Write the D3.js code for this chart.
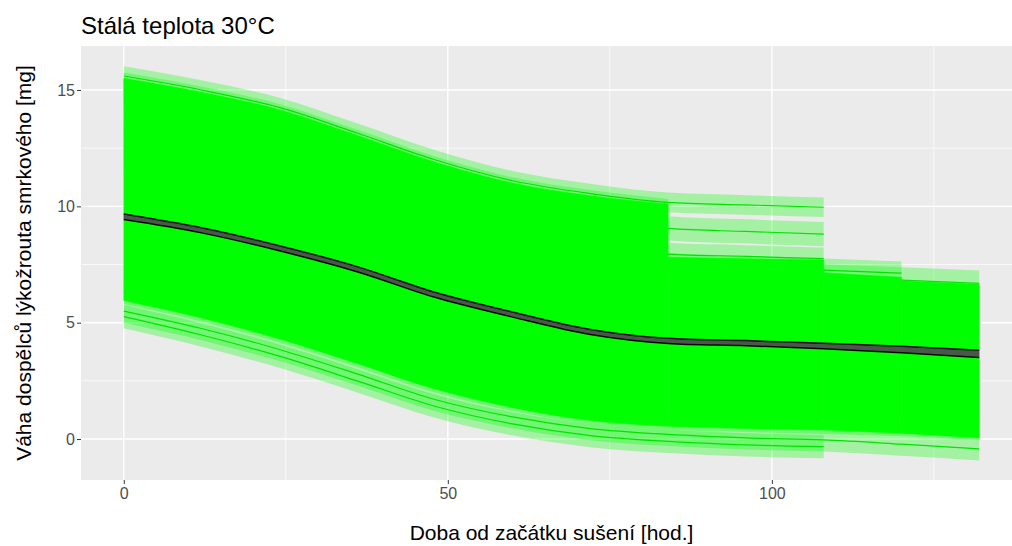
<!DOCTYPE html>
<html>
<head>
<meta charset="utf-8">
<script src="https://cdn.jsdelivr.net/npm/d3@7"></script>
<style>
body { margin: 0; background: #fff; }
text { font-family: 'Liberation Sans', Arial, sans-serif; }
</style>
</head>
<body>
<svg width="1012" height="546"></svg>
<script>
/* global d3 */
// hours since drying started (smoothing knots)
var knots = [0, 12, 24, 36, 48, 60, 72, 84, 96, 108, 120, 132]

// fitted weight curves of single beetles [mg], read at the knots
var curveA = [15.6, 15.0, 14.25, 13.15, 12.0, 11.1, 10.55, 10.17, 10.06, 9.96]
var curveT2 = [15.35, 14.75, 14.0, 12.9, 11.75, 10.85, 10.3, 9.92]
var curveT3 = [15.0, 14.4, 13.65, 12.55, 11.4, 10.5, 9.95, 9.6]
var curveB = [14.5, 13.9, 13.15, 12.05, 10.9, 10.0, 9.45, 9.05, 8.92, 8.81]
var curveD = [13.3, 12.7, 11.95, 10.85, 9.7, 8.8, 8.3, 7.95, 7.85, 7.75]
var curveE = [12.6, 12.0, 11.25, 10.2, 9.1, 8.3, 7.8, 7.5, 7.38, 7.26, 7.13]
var curveF = [11.9, 11.3, 10.6, 9.6, 8.6, 7.85, 7.4, 7.15, 7.05, 6.95, 6.83, 6.69]
var curveG = [6.3, 5.55, 4.65, 3.6, 2.5, 1.7, 1.15, 0.9, 0.8, 0.72, 0.62, 0.45]
var curveL1 = [5.5, 4.75, 3.85, 2.8, 1.7, 0.95, 0.45, 0.2, 0.05, -0.04, -0.22, -0.42]
var curveL2 = [5.26, 4.47, 3.56, 2.5, 1.41, 0.65, 0.15, -0.1, -0.25, -0.33]
// half-width of each curve's confidence band
var curveSe = [0.42, 0.4, 0.4, 0.52, 0.48, 0.5, 0.55, 0.5, 0.5, 0.5]

// the dense overlap of all other beetles (solid green)
var coreTop0 = [15.5, 14.9, 14.15, 13.05, 11.9, 11.0, 10.45, 10.1] // 0-84 h
var coreTop84 = [7.81, 7.75, 7.69] // 84-108 h
var coreTop108 = [7.15, 6.95] // 108-120 h
var coreTop120 = [6.8, 6.65] // 120-132 h
var coreBottom = [5.95, 5.2, 4.3, 3.25, 2.15, 1.35, 0.8, 0.55, 0.45, 0.39, 0.25, 0.05]

// mean curve of all beetles
var meanWeight = [9.55, 8.97, 8.2, 7.3, 6.2, 5.35, 4.6, 4.22, 4.12, 4.0, 3.85, 3.66]
var meanSe = [0.12, 0.11, 0.11, 0.11, 0.11, 0.11, 0.11, 0.11, 0.11, 0.12, 0.14, 0.16]

var xTicks = [0, 50, 100]
var xMinor = [25, 75, 125]
var yTicks = [0, 5, 10, 15]
var yMinor = [2.5, 7.5, 12.5]

var svg = d3.select('svg')
var pLeft = 81
var pTop = 46
var pRight = 1022
var pBottom = 480

var x = d3.scaleLinear().domain([-6.6, 138.6]).range([pLeft, pRight])
var y = d3.scaleLinear().domain([-1.76, 16.89]).range([pBottom, pTop])

svg.append('rect')
    .attr('x', pLeft).attr('y', pTop)
    .attr('width', pRight - pLeft).attr('height', pBottom - pTop)
    .attr('fill', '#ebebeb')

var grid = svg.append('g')
grid.selectAll('.ym').data(yMinor).enter().append('line')
    .attr('x1', pLeft).attr('x2', pRight)
    .attr('y1', d => y(d)).attr('y2', d => y(d))
    .attr('stroke', '#fff').attr('stroke-width', 0.7)
grid.selectAll('.xm').data(xMinor).enter().append('line')
    .attr('y1', pTop).attr('y2', pBottom)
    .attr('x1', d => x(d)).attr('x2', d => x(d))
    .attr('stroke', '#fff').attr('stroke-width', 0.7)
grid.selectAll('.yM').data(yTicks).enter().append('line')
    .attr('x1', pLeft).attr('x2', pRight)
    .attr('y1', d => y(d)).attr('y2', d => y(d))
    .attr('stroke', '#fff').attr('stroke-width', 1.4)
grid.selectAll('.xM').data(xTicks).enter().append('line')
    .attr('y1', pTop).attr('y2', pBottom)
    .attr('x1', d => x(d)).attr('x2', d => x(d))
    .attr('stroke', '#fff').attr('stroke-width', 1.4)

function pts (vals) { return vals.map((v, i) => [knots[i], v]) }

var line = d3.line()
    .x(d => x(d[0])).y(d => y(d[1]))
    .curve(d3.curveMonotoneX)

function band (se) {
  return d3.area()
      .x(d => x(d[0]))
      .y0(d => y(d[1] - se)).y1(d => y(d[1] + se))
      .curve(d3.curveMonotoneX)
}

var curves = [curveA, curveT2, curveT3, curveB, curveD, curveE, curveF, curveG, curveL1, curveL2]
    .map((vals, i) => ({ pts: pts(vals), se: curveSe[i] }))

var plot = svg.append('g')

plot.selectAll('.ribbon').data(curves).enter().append('path')
    .attr('d', d => band(d.se)(d.pts))
    .attr('fill', '#00ff00')
    .attr('fill-opacity', 0.3)

plot.selectAll('.fit').data(curves).enter().append('path')
    .attr('d', d => line(d.pts))
    .attr('fill', 'none')
    .attr('stroke', '#00e400')
    .attr('stroke-width', 1.2)

// solid core, one piece per stretch between drop-outs
var coreParts = [[0, coreTop0], [7, coreTop84], [9, coreTop108], [10, coreTop120]]
var coreArea = d3.area()
    .x(d => x(d[0]))
    .y0(d => y(d[2])).y1(d => y(d[1]))
    .curve(d3.curveMonotoneX)
plot.selectAll('.core').data(coreParts).enter().append('path')
    .attr('d', function (p) {
      var pts = p[1].map((v, i) => [knots[p[0] + i], v, coreBottom[p[0] + i]])
      return coreArea(pts)
    })
    .attr('fill', '#00ff00')
    .attr('stroke', '#00ff00')
    .attr('stroke-width', 0.5)

// mean curve
var meanPts = meanWeight.map((v, i) => [knots[i], v, meanSe[i]])
plot.append('path')
    .attr('d', d3.area()
        .x(d => x(d[0]))
        .y0(d => y(d[1] - d[2])).y1(d => y(d[1] + d[2]))
        .curve(d3.curveMonotoneX)(meanPts))
    .attr('fill', '#4a584a')
plot.selectAll('.meanline').data([-1, 1]).enter().append('path')
    .attr('d', s => d3.line()
        .x(d => x(d[0])).y(d => y(d[1] + s * d[2]))
        .curve(d3.curveMonotoneX)(meanPts))
    .attr('fill', 'none')
    .attr('stroke', '#0a0a0a')
    .attr('stroke-width', 1.5)

// axes
var xAxis = svg.append('g')
    .attr('transform', 'translate(0,' + pBottom + ')')
    .call(d3.axisBottom(x).tickValues(xTicks).tickSize(4).tickPadding(4))
var yAxis = svg.append('g')
    .attr('transform', 'translate(' + pLeft + ',0)')
    .call(d3.axisLeft(y).tickValues(yTicks).tickSize(4).tickPadding(2))
;[xAxis, yAxis].forEach(function (a) {
  a.select('.domain').remove()
  a.selectAll('line').attr('stroke', '#333')
  a.selectAll('text')
      .attr('fill', '#4d4d4d')
      .style('font-size', '16px')
      .style('font-family', "'Liberation Sans', Arial, sans-serif")
})

svg.append('text')
    .attr('x', pLeft).attr('y', 34)
    .style('font-size', '24px')
    .attr('fill', '#000')
    .text('Stálá teplota 30°C')

svg.append('text')
    .attr('x', (pLeft + pRight) / 2).attr('y', 540)
    .attr('text-anchor', 'middle')
    .style('font-size', '21px')
    .text('Doba od začátku sušení [hod.]')

svg.append('text')
    .attr('transform', 'translate(31,' + (pTop + pBottom) / 2 + ') rotate(-90)')
    .attr('text-anchor', 'middle')
    .style('font-size', '21px')
    .text('Váha dospělců lýkožrouta smrkového [mg]')
</script>
</body>
</html>
